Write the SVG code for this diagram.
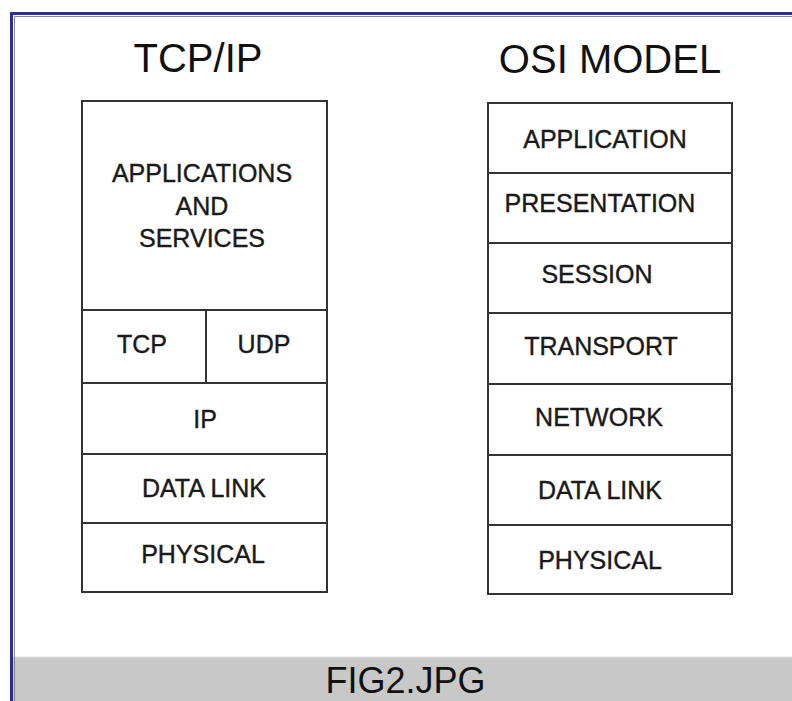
<svg xmlns="http://www.w3.org/2000/svg" width="792" height="701" viewBox="0 0 792 701">
  <style>
    .cell { fill: #ffffff; stroke: #333333; stroke-width: 2; }
    .lbl { font-family: "Liberation Sans", Arial, sans-serif; font-size: 25px; fill: #1a1a1a; stroke: #1a1a1a; stroke-width: 0.4; text-anchor: middle; }
    .title { font-family: "Liberation Sans", Arial, sans-serif; font-size: 40px; fill: #111111; text-anchor: middle; }
    .caption { font-family: "Liberation Sans", Arial, sans-serif; font-size: 36px; fill: #111111; text-anchor: middle; }
  </style>

  <!-- page background -->
  <rect x="0" y="0" width="792" height="701" fill="#ffffff"/>

  <!-- caption band -->
  <rect x="13" y="657" width="779" height="44" fill="#c8c8c8"/>
  <line x1="13" y1="657" x2="792" y2="657" stroke="#dedede" stroke-width="1"/>
  <text class="caption" x="405.5" y="693">FIG2.JPG</text>

  <!-- frame edge -->
  <path d="M14.5,701 V16.5 H792" fill="none" stroke="#8a8a8a" stroke-width="1"/>
  <path d="M11.5,701 V13.5 H792" fill="none" stroke="#2d2d96" stroke-width="3"/>

  <!-- column titles -->
  <text class="title" x="198" y="72">TCP/IP</text>
  <text class="title" x="610" y="73">OSI MODEL</text>

  <!-- TCP/IP stack -->
  <g id="tcpip-apps">
    <rect class="cell" x="82" y="101" width="245" height="209"/>
    <text class="lbl" x="202" y="182" font-size="24">APPLICATIONS</text>
    <text class="lbl" x="202" y="215" font-size="24">AND</text>
    <text class="lbl" x="202" y="247" font-size="24">SERVICES</text>
  </g>
  <g id="tcpip-tcp">
    <rect class="cell" x="82" y="310" width="124" height="73"/>
    <text class="lbl" x="142" y="353">TCP</text>
  </g>
  <g id="tcpip-udp">
    <rect class="cell" x="206" y="310" width="121" height="73"/>
    <text class="lbl" x="264" y="353">UDP</text>
  </g>
  <g id="tcpip-ip">
    <rect class="cell" x="82" y="383" width="245" height="71"/>
    <text class="lbl" x="205" y="428">IP</text>
  </g>
  <g id="tcpip-datalink">
    <rect class="cell" x="82" y="454" width="245" height="69"/>
    <text class="lbl" x="204" y="497">DATA LINK</text>
  </g>
  <g id="tcpip-physical">
    <rect class="cell" x="82" y="523" width="245" height="69"/>
    <text class="lbl" x="203" y="563">PHYSICAL</text>
  </g>

  <!-- OSI stack -->
  <g id="osi-application">
    <rect class="cell" x="488" y="103" width="244" height="70"/>
    <text class="lbl" x="605" y="148">APPLICATION</text>
  </g>
  <g id="osi-presentation">
    <rect class="cell" x="488" y="173" width="244" height="70"/>
    <text class="lbl" x="600" y="212">PRESENTATION</text>
  </g>
  <g id="osi-session">
    <rect class="cell" x="488" y="243" width="244" height="70"/>
    <text class="lbl" x="597" y="283">SESSION</text>
  </g>
  <g id="osi-transport">
    <rect class="cell" x="488" y="313" width="244" height="71"/>
    <text class="lbl" x="601" y="355">TRANSPORT</text>
  </g>
  <g id="osi-network">
    <rect class="cell" x="488" y="384" width="244" height="71"/>
    <text class="lbl" x="599" y="426">NETWORK</text>
  </g>
  <g id="osi-datalink">
    <rect class="cell" x="488" y="455" width="244" height="70"/>
    <text class="lbl" x="600" y="499">DATA LINK</text>
  </g>
  <g id="osi-physical">
    <rect class="cell" x="488" y="525" width="244" height="69"/>
    <text class="lbl" x="600" y="569">PHYSICAL</text>
  </g>

  <!-- no connectors in this figure -->
  <g id="connectors"/>
</svg>
